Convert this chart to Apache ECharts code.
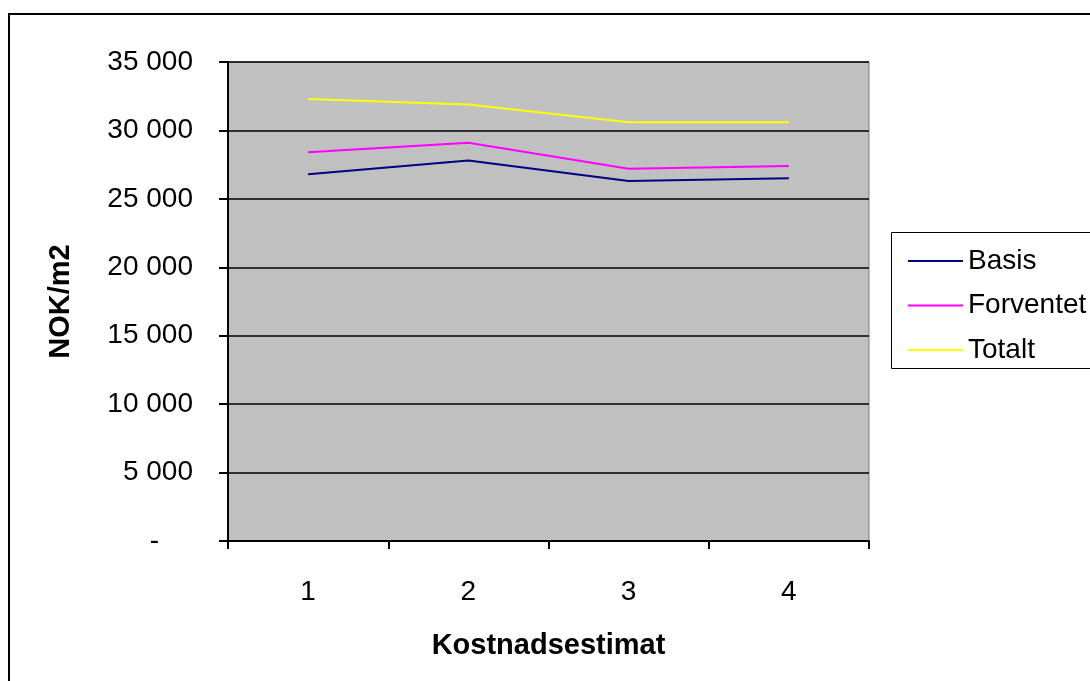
<!DOCTYPE html>
<html>
<head>
<meta charset="utf-8">
<script src="https://cdn.jsdelivr.net/npm/echarts@6/dist/echarts.min.js"></script>
<style>
  html, body { margin: 0; padding: 0; background: #fff; }
  #chart { width: 1090px; height: 681px; }
</style>
</head>
<body>
<div id="chart"></div>
<script>
const categories = ['1', '2', '3', '4'];
const basis = [26800, 27800, 26300, 26500];
const forventet = [28400, 29100, 27200, 27400];
const totalt = [32300, 31900, 30600, 30600];
const seriesNames = ['Basis', 'Forventet', 'Totalt'];
const yTicks = { min: 0, max: 35000, interval: 5000 };
const xTitle = 'Kostnadsestimat';
const yTitle = 'NOK/m2';

const FONT = '"Liberation Sans", Arial, sans-serif';
const chart = echarts.init(document.getElementById('chart'), null, { renderer: 'canvas' });

function fmt(v) {
  if (v === 0) return '{z|-}';
  return String(v).replace(/\B(?=(\d{3})+(?!\d))/g, ' ');
}

chart.setOption({
  animation: false,
  backgroundColor: '#ffffff',
  graphic: [
    { type: 'rect', shape: { x: 9, y: 14, width: 1200, height: 800 },
      style: { fill: 'none', stroke: '#000', lineWidth: 2 }, z: 100 },
    { type: 'rect', shape: { x: 891.5, y: 232.5, width: 300, height: 136 },
      style: { fill: '#fff', stroke: '#000', lineWidth: 1 }, z: 1 }
  ],
  grid: {
    left: 228, right: 221, top: 62, bottom: 140,
    show: true, backgroundColor: '#c0c0c0', borderColor: '#808080', borderWidth: 1
  },
  legend: {
    orient: 'vertical', left: 903, top: 242,
    itemWidth: 55, itemHeight: 2, itemGap: 16.5,
    icon: 'rect',
    data: seriesNames,
    textStyle: { fontFamily: FONT, fontSize: 28, color: '#000', lineHeight: 28, padding: [0, 0, 0, 0] },
    z: 5
  },
  xAxis: {
    type: 'category', data: categories, boundaryGap: true,
    name: xTitle, nameLocation: 'middle', nameGap: 90,
    nameTextStyle: { fontFamily: FONT, fontSize: 29, fontWeight: 'bold', color: '#000' },
    axisLine: { show: true, lineStyle: { color: '#000', width: 2 } },
    axisTick: { show: true, inside: false, length: 8, lineStyle: { color: '#000', width: 2 } },
    axisLabel: { fontFamily: FONT, fontSize: 28, color: '#000', margin: 37 },
    splitLine: { show: false }
  },
  yAxis: {
    type: 'value', min: yTicks.min, max: yTicks.max, interval: yTicks.interval,
    name: yTitle, nameLocation: 'middle', nameRotate: 90, nameGap: 153,
    nameTextStyle: { fontFamily: FONT, fontSize: 29, fontWeight: 'bold', color: '#000' },
    axisLine: { show: true, lineStyle: { color: '#000', width: 2 } },
    axisTick: { show: true, inside: false, length: 9, lineStyle: { color: '#000', width: 2 } },
    axisLabel: {
      fontFamily: FONT, fontSize: 28, color: '#000', margin: 35,
      formatter: fmt,
      rich: { z: { fontFamily: FONT, fontSize: 28, color: '#000', padding: [0, 34, 0, 0] } }
    },
    splitLine: { show: true, lineStyle: { color: '#000', width: 1.5 } }
  },
  series: [
    { name: seriesNames[0], type: 'line', data: basis, symbol: 'none', color: '#000080',
      lineStyle: { color: '#000080', width: 2 } },
    { name: seriesNames[1], type: 'line', data: forventet, symbol: 'none', color: '#ff00ff',
      lineStyle: { color: '#ff00ff', width: 2 } },
    { name: seriesNames[2], type: 'line', data: totalt, symbol: 'none', color: '#ffff00',
      lineStyle: { color: '#ffff00', width: 2 } }
  ]
});
</script>
</body>
</html>
